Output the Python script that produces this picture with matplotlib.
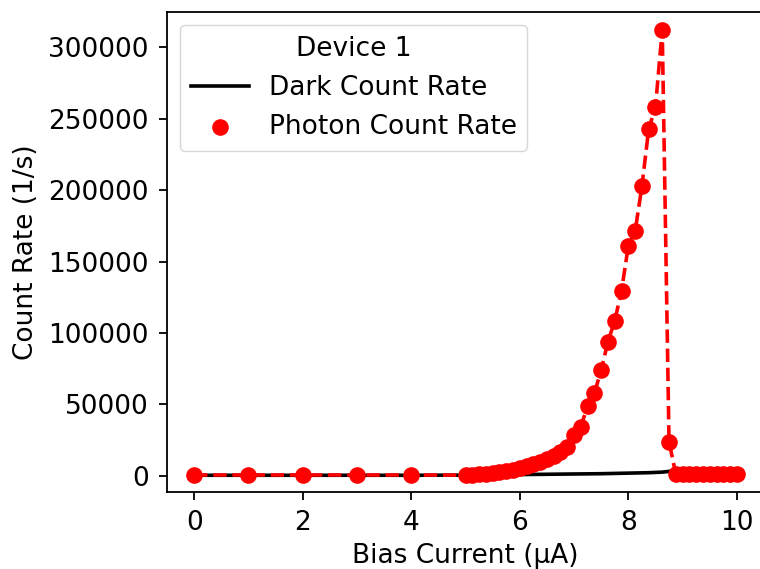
import numpy as np
import matplotlib
matplotlib.use("Agg")
import matplotlib.pyplot as plt

# bias current (uA): coarse steps up to 4, then 0.125 steps from 5 to 10
bias = [0, 1, 2, 3, 4,
        5.0, 5.125, 5.25, 5.375, 5.5, 5.625, 5.75, 5.875,
        6.0, 6.125, 6.25, 6.375, 6.5, 6.625, 6.75, 6.875,
        7.0, 7.125, 7.25, 7.375, 7.5, 7.625, 7.75, 7.875,
        8.0, 8.125, 8.25, 8.375, 8.5, 8.625, 8.75, 8.875,
        9.0, 9.125, 9.25, 9.375, 9.5, 9.625, 9.75, 9.875, 10.0]

photon = [700, 700, 700, 700, 700,
          600, 800, 1100, 1500, 2100, 2800, 3500, 4500,
          5600, 7000, 8400, 9800, 11700, 14000, 17000, 20500,
          28700, 34500, 49000, 58000, 74000, 94000, 108500, 129500,
          161000, 171000, 202500, 242500, 258000, 312000, 24000, 1300,
          1300, 1300, 1300, 1300, 1300, 1300, 1300, 1300, 1300]

dark = [500, 500, 500, 500, 500,
        600, 650, 700, 750, 800, 850, 900, 950,
        1000, 1050, 1100, 1150, 1200, 1250, 1300, 1350,
        1400, 1450, 1500, 1550, 1600, 1700, 1800, 1900,
        2000, 2100, 2200, 2300, 2500, 2700, 3200, 4200,
        1500, 1200, 1200, 1200, 1200, 1200, 1200, 1200, 1200]

fig = plt.figure(figsize=(7.6, 5.69), dpi=100)
ax = fig.add_axes([167 / 760, 77 / 569, 597 / 760, 480 / 569])

ax.plot(bias, dark, color='k', lw=2.6, label='Dark Count Rate')
ax.scatter(bias, photon, color='r', s=120, zorder=3, label='Photon Count Rate')
ax.plot(bias, photon, 'r--', lw=2.6, zorder=2)

ax.set_xlim(-0.5, 10.5)
ax.set_ylim(-11200, 324500)
ax.set_xticks([0, 2, 4, 6, 8, 10])
ax.set_yticks([0, 50000, 100000, 150000, 200000, 250000, 300000])
ax.tick_params(labelsize=19, length=6, width=1.3, pad=7)
for s in ax.spines.values():
    s.set_linewidth(1.3)

ax.set_xlabel("Bias Current (µA)", fontsize=19, labelpad=5)
ax.set_ylabel("Count Rate (1/s)", fontsize=19, labelpad=7)
ax.legend(title="Device 1", loc='upper left', fontsize=19, title_fontsize=19,
          borderaxespad=0.5, handletextpad=0.75, handlelength=2.2,
          borderpad=0.4, labelspacing=0.5)

fig.savefig("out.png", dpi=100)
